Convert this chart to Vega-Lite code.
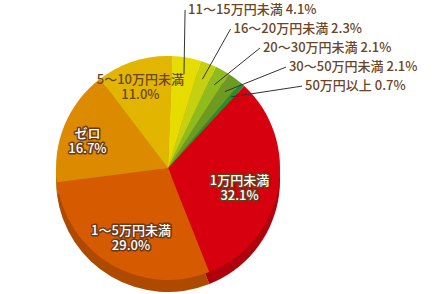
{
  "$schema": "https://vega.github.io/schema/vega-lite/v6.json",
  "width": 440,
  "height": 294,
  "padding": 0,
  "autosize": {"type": "none"},
  "background": "white",
  "config": {"view": {"stroke": null}, "font": "Noto Sans CJK JP"},
  "data": {
    "values": [
      {"cat": "11～15万円未満", "pct": 4.1},
      {"cat": "16～20万円未満", "pct": 2.3},
      {"cat": "20～30万円未満", "pct": 2.1},
      {"cat": "30～50万円未満", "pct": 2.1},
      {"cat": "50万円以上", "pct": 0.7},
      {"cat": "1万円未満", "pct": 32.1},
      {"cat": "1～5万円未満", "pct": 29.0},
      {"cat": "ゼロ", "pct": 16.7},
      {"cat": "5～10万円未満", "pct": 11.0}
    ]
  },
  "transform": [
    {"window": [{"op": "row_number", "as": "i"}, {"op": "sum", "field": "pct", "as": "cum"}], "frame": [null, 0]},
    {"joinaggregate": [{"op": "sum", "field": "pct", "as": "total"}]},
    {"calculate": "0.04 + 2*PI*(datum.cum - datum.pct/2)/datum.total", "as": "ang"},
    {"calculate": "datum.cat + '\\n' + format(datum.pct, '.1f') + '%'", "as": "label2"},
    {"calculate": "datum.cat + ' ' + format(datum.pct, '.1f') + '%'", "as": "label1"}
  ],
  "layer": [
    {
      "mark": {"type": "arc", "outerRadius": 112, "yOffset": 12},
      "encoding": {
        "x": {"datum": 0, "type": "quantitative", "scale": {"domain": [-1.5, 2.428571], "nice": false, "zero": false}, "axis": null},
        "y": {"datum": 0, "type": "quantitative", "scale": {"domain": [-1.125, 1.5], "nice": false, "zero": false}, "axis": null},
        "theta": {"field": "pct", "type": "quantitative", "stack": true, "scale": {"range": [0.04, 6.3232]}},
        "order": {"field": "i", "type": "quantitative"},
        "color": {
          "field": "cat", "type": "nominal", "legend": null,
          "scale": {
            "domain": ["11～15万円未満", "16～20万円未満", "20～30万円未満", "30～50万円未満", "50万円以上", "1万円未満", "1～5万円未満", "ゼロ", "5～10万円未満"],
            "range": ["#e6dc00", "#c6d010", "#8fbb1e", "#6f9a22", "#239030", "#d7000f", "#d55a00", "#dc8a00", "#e2b600"]
          }
        }
      }
    },
    {
      "mark": {"type": "arc", "outerRadius": 112, "yOffset": 12, "fill": "#000000", "fillOpacity": 0.18},
      "encoding": {
        "x": {"datum": 0, "type": "quantitative"},
        "y": {"datum": 0, "type": "quantitative"},
        "theta": {"field": "pct", "type": "quantitative", "stack": true},
        "order": {"field": "i", "type": "quantitative"}
      }
    },
    {
      "mark": {"type": "arc", "outerRadius": 112},
      "encoding": {
        "x": {"datum": 0, "type": "quantitative"},
        "y": {"datum": 0, "type": "quantitative"},
        "theta": {"field": "pct", "type": "quantitative", "stack": true},
        "order": {"field": "i", "type": "quantitative"},
        "color": {"field": "cat", "type": "nominal", "legend": null}
      }
    },
    {
      "transform": [
        {"filter": "datum.i <= 5"},
        {"calculate": "2.1*sin(datum.ang) - 0.2", "as": "lx"},
        {"calculate": "1.411 - 0.17*(datum.i - 1)", "as": "ly"},
        {"calculate": "0.85*sin(datum.ang)", "as": "ax"},
        {"calculate": "0.85*cos(datum.ang)", "as": "ay"}
      ],
      "layer": [
        {
          "mark": {"type": "rule", "color": "#333333", "strokeWidth": 1},
          "encoding": {
            "x": {"field": "lx", "type": "quantitative"},
            "y": {"field": "ly", "type": "quantitative"},
            "x2": {"field": "ax"},
            "y2": {"field": "ay"}
          }
        },
        {
          "mark": {"type": "text", "align": "left", "baseline": "middle", "dx": 3, "fontSize": 13, "fontWeight": 500, "color": "#6b4526"},
          "encoding": {
            "x": {"field": "lx", "type": "quantitative"},
            "y": {"field": "ly", "type": "quantitative"},
            "text": {"field": "label1"}
          }
        }
      ]
    },
    {
      "transform": [
        {"filter": "datum.i >= 6"},
        {"calculate": "datum.i == 8 ? 0.78 : datum.i == 9 ? 0.82 : 0.65", "as": "r"},
        {"calculate": "datum.r*sin(datum.ang)", "as": "tx"},
        {"calculate": "datum.r*cos(datum.ang)", "as": "ty"}
      ],
      "layer": [
        {
          "transform": [{"filter": "datum.i <= 8"}],
          "mark": {"type": "text", "align": "center", "baseline": "middle", "lineBreak": "\n", "lineHeight": 15, "fontSize": 13, "fontWeight": 500, "fill": "#6b3a1a", "stroke": "#6b3a1a", "strokeWidth": 3, "strokeJoin": "round"},
          "encoding": {
            "x": {"field": "tx", "type": "quantitative"},
            "y": {"field": "ty", "type": "quantitative"},
            "text": {"field": "label2"}
          }
        },
        {
          "transform": [{"filter": "datum.i <= 8"}],
          "mark": {"type": "text", "align": "center", "baseline": "middle", "lineBreak": "\n", "lineHeight": 15, "fontSize": 13, "fontWeight": 500, "fill": "#ffffff"},
          "encoding": {
            "x": {"field": "tx", "type": "quantitative"},
            "y": {"field": "ty", "type": "quantitative"},
            "text": {"field": "label2"}
          }
        },
        {
          "transform": [{"filter": "datum.i == 9"}],
          "mark": {"type": "text", "align": "center", "baseline": "middle", "lineBreak": "\n", "lineHeight": 15, "fontSize": 13, "fontWeight": 500, "fill": "#6b4526"},
          "encoding": {
            "x": {"field": "tx", "type": "quantitative"},
            "y": {"field": "ty", "type": "quantitative"},
            "text": {"field": "label2"}
          }
        }
      ]
    }
  ]
}
